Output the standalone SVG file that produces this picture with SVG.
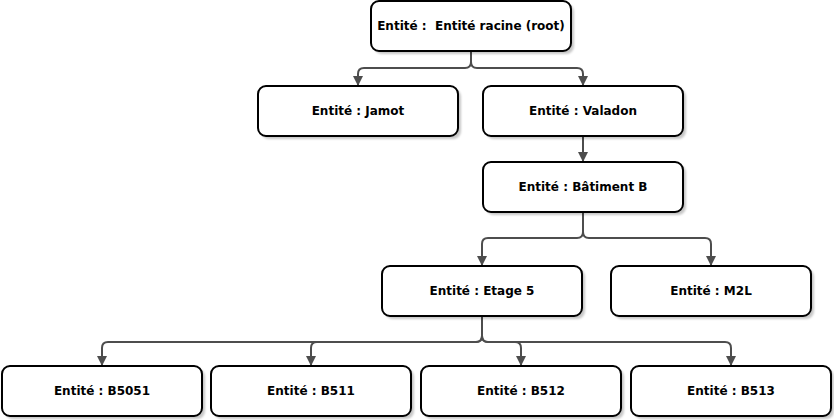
<svg xmlns="http://www.w3.org/2000/svg" width="834" height="420" viewBox="0 0 834 420">
<style>
.box{fill:#fff;stroke:#000;stroke-width:2}
.sh{fill:#000;opacity:0.22;filter:url(#blur)}
.lbl{font-family:"DejaVu Sans",Verdana,sans-serif;font-weight:bold;font-size:12px;fill:#000;text-anchor:middle;white-space:pre}
.con{fill:none;stroke:#4d4d4d;stroke-width:2;marker-end:url(#arr)}
</style>
<defs>
<filter id="blur" x="-10%" y="-20%" width="120%" height="140%"><feGaussianBlur stdDeviation="1"/></filter>
<marker id="arr" viewBox="0 0 10 10" refX="10" refY="5" markerWidth="10" markerHeight="10" markerUnits="userSpaceOnUse" orient="auto"><path d="M0,0 L10,5 L0,10 Z" fill="#4d4d4d"/></marker>
</defs>
<rect width="834" height="420" fill="#fff"/>
<g id="connectors">
<path class="con" d="M471 51 V62 Q471 68 465 68 H364 Q358 68 358 74 V86"/>
<path class="con" d="M471 51 V62 Q471 68 477 68 H577 Q583 68 583 74 V86"/>
<path class="con" d="M583 136 V162"/>
<path class="con" d="M583 212 V232 Q583 238 577 238 H488 Q482 238 482 244 V266"/>
<path class="con" d="M583 212 V232 Q583 238 589 238 H705 Q711 238 711 244 V266"/>
<path class="con" d="M482 316 V336 Q482 342 476 342 H108 Q102 342 102 348 V366"/>
<path class="con" d="M482 316 V336 Q482 342 476 342 H317 Q311 342 311 348 V366"/>
<path class="con" d="M482 316 V336 Q482 342 488 342 H515 Q521 342 521 348 V366"/>
<path class="con" d="M482 316 V336 Q482 342 488 342 H725 Q731 342 731 348 V366"/>
</g>
<g id="root"><rect class="sh" x="374" y="4" width="200" height="50" rx="8"/><rect class="box" x="371" y="1" width="200" height="50" rx="8"/><text class="lbl" x="471" y="30">Entité :  Entité racine (root)</text></g>
<g id="jamot"><rect class="sh" x="261" y="89" width="200" height="50" rx="8"/><rect class="box" x="258" y="86" width="200" height="50" rx="8"/><text class="lbl" x="358" y="115">Entité : Jamot</text></g>
<g id="valadon"><rect class="sh" x="486" y="89" width="200" height="50" rx="8"/><rect class="box" x="483" y="86" width="200" height="50" rx="8"/><text class="lbl" x="583" y="115">Entité : Valadon</text></g>
<g id="batimentB"><rect class="sh" x="486" y="165" width="200" height="50" rx="8"/><rect class="box" x="483" y="162" width="200" height="50" rx="8"/><text class="lbl" x="583" y="191">Entité : Bâtiment B</text></g>
<g id="etage5"><rect class="sh" x="385" y="269" width="200" height="50" rx="8"/><rect class="box" x="382" y="266" width="200" height="50" rx="8"/><text class="lbl" x="482" y="295">Entité : Etage 5</text></g>
<g id="m2l"><rect class="sh" x="614" y="269" width="200" height="50" rx="8"/><rect class="box" x="611" y="266" width="200" height="50" rx="8"/><text class="lbl" x="711" y="295">Entité : M2L</text></g>
<g id="b5051"><rect class="sh" x="5" y="369" width="200" height="50" rx="8"/><rect class="box" x="2" y="366" width="200" height="50" rx="8"/><text class="lbl" x="102" y="395">Entité : B5051</text></g>
<g id="b511"><rect class="sh" x="214" y="369" width="200" height="50" rx="8"/><rect class="box" x="211" y="366" width="200" height="50" rx="8"/><text class="lbl" x="311" y="395">Entité : B511</text></g>
<g id="b512"><rect class="sh" x="424" y="369" width="200" height="50" rx="8"/><rect class="box" x="421" y="366" width="200" height="50" rx="8"/><text class="lbl" x="521" y="395">Entité : B512</text></g>
<g id="b513"><rect class="sh" x="634" y="369" width="200" height="50" rx="8"/><rect class="box" x="631" y="366" width="200" height="50" rx="8"/><text class="lbl" x="731" y="395">Entité : B513</text></g>
</svg>
